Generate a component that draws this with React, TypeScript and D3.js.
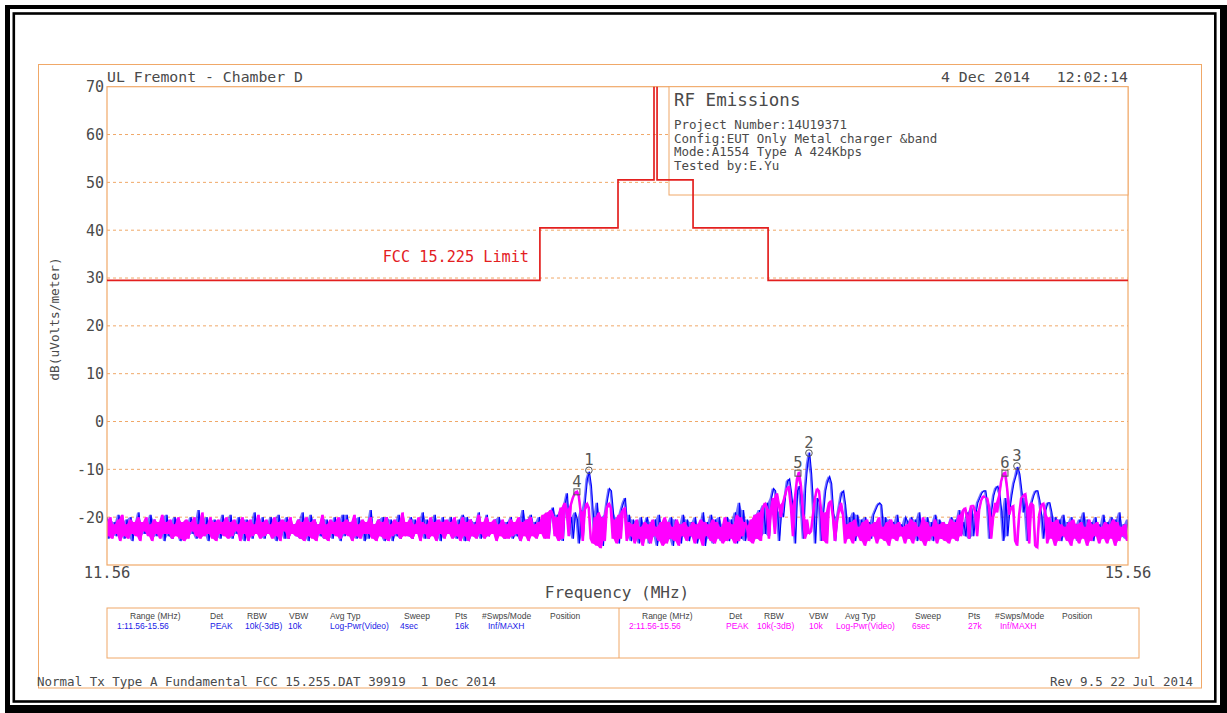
import React from "react";
import * as d3 from "d3";

const W = 1227;
const H = 713;

const freqStart = 11.56;
const freqStop = 15.56;
const yTicks = [70, 60, 50, 40, 30, 20, 10, 0, -10, -20];
const xTickLabels = ["11.56", "15.56"];

// FCC 15.225 limit as drawn on the plot (MHz / dBuV/m)
const limitFreqs = [11.56, 13.256, 13.256, 13.562, 13.562, 13.703, 13.703, 13.715, 13.715, 13.856, 13.856, 14.15, 14.15, 15.56];
const limitLevels = [29.5, 29.5, 40.5, 40.5, 50.5, 50.5, 84, 84, 50.5, 50.5, 40.5, 40.5, 29.5, 29.5];

// sweep levels, one char per point: index in LEVEL_CODES -> -27 + idx * 0.5 dB
const LEVEL_CODES = "0123456789abcdefghijklmnopqrstuvwxyzABCDEFGHIJ";

const trace1Levels = [
  "e5d7c6f8b5", "d6e4c8g6b7", "c7f5d6b8e4", "f6c5e7d4c8", "b6e7c5h6d7", "e4c8d6b5f7",
  "c6f5b7e6d4", "d8c5g7b6e5", "b7e6d4f8c5", "e5c7b6d5g6", "c4f7d8b6e5", "d6b5e7c4f6",
  "f7c6d5e8b4", "c5h6b7d6e4", "e7d4c6f5b8", "b6e5d7c8g5", "d5c7f6b4e7", "c8e6b5d7f4",
  "e4d6c7g5b6", "f6b8d5e7c5", "c7e5b6d4h7", "d5f7c6e8b6", "e6gi7f5h4k", "o8e5gd3h6l",
  "uxrf3k4e2f", "lqpg5e3hkm", "7f4d6c3e5b", "e3c6d2f5b4", "c5e2d6b3f7", "d4c6e3b5g2",
  "c5f3d6e4b7", "e4d6g3k5h4", "d6c4f5h6j7", "k6mqpg4hen", "tuof3pri5q", "AFwi3mk4gp",
  "tvsg4ejopj", "5e6g4f7d5e", "6c5fhjkj6e", "4d7c5f6b8e", "c5e7d4g6b7", "e6c4f7d5c8",
  "b5e6d4h7c6", "g5i6fkmopp", "j5hnqrog4m", "6hnsvzwpgm", "4fknpple5h", "kkg5e6d4f6",
  "c5e7b4d6g5", "d6c4e7b5f6", "c7e5d4g6b5", "d",
].join("");

const trace2Levels = [
  "c6e5b7d4f6", "b5d7c6e4c8", "e6b4d7c5f7", "c7d5b6e5c4", "d5c8e6b5g6", "b7e5c4d7c6",
  "e5c6d8b4e7", "c4d6b7f5c6", "d7b5e6c4d8", "c5e7b6d5c4", "e6c5d4b7f5", "b4d7c6e5c7",
  "d6c4f6b5d7", "c7e5b4d6c5", "e4b6d7c5g6", "c6d5b7e4c7", "b5e6c4d7c5", "d7c5e6b4e6",
  "c4d6b5f7c5", "e6c7d4b6d5", "b5d6c7e4c6", "d4e6b5c7f5", "g5hf6e4i5k", "h6jmopng4h",
  "ki53e2g1e4", "iki5d3f5hi", "4c6b3d5a2c", "5b3d6a4c2e", "3c5a4d2b6c", "4a6c3b5d2c",
  "6b4d3c5a3e", "4c5b3f4e6c", "a4d3f5g4ik", "i5hm7ojekn", "qri6muxrg5", "d78fmqph4g",
  "3kle4chkf3", "b5c3d6a4c2", "d4b6c3e5a4", "c2d5b4c6a3", "b5d3c6a4e2", "c4a6d3b5c4",
  "b3d5c4f6hi", "e5jjg6hlnm", "mi5ekgntwx", "qfij42fmno", "i3kj21fjkg", "3e5c2d4b6a",
  "4c2d5b3c5a", "2d4b6c3a5c", "3b5d2c4a6b", "4",
].join("");

const markerIds = ["1", "2", "3", "4", "5", "6"];
const markerFreqs = [13.448, 14.31, 15.125, 13.401, 14.267, 15.078];
const markerLevels = [-10.2, -6.6, -9.3, -14.7, -10.8, -10.8];
const markerTrace = [1, 1, 1, 2, 2, 2];

const tableHeaders = ["Range (MHz)", "Det", "RBW", "VBW", "Avg Typ", "Sweep", "Pts", "#Swps/Mode", "Position"];
const trace1Settings = ["1:11.56-15.56", "PEAK", "10k(-3dB)", "10k", "Log-Pwr(Video)", "4sec", "16k", "Inf/MAXH"];
const trace2Settings = ["2:11.56-15.56", "PEAK", "10k(-3dB)", "10k", "Log-Pwr(Video)", "6sec", "27k", "Inf/MAXH"];

const infoTitle = "RF Emissions";
const infoLines = [
  "Project Number:14U19371",
  "Config:EUT Only Metal charger &band",
  "Mode:A1554 Type A 424Kbps",
  "Tested by:E.Yu",
];

const ORANGE = "#f0a868";
const INK = "#4a4a4a";
const BLUE = "#0000ff";
const MAGENTA = "#ff00ff";
const RED = "#e3201f";
const MONO = "'DejaVu Sans Mono', monospace";
const SANS = "'Liberation Sans', Arial, sans-serif";

type Pt = { f: number; v: number; lo: number; hi: number };

const decode = (s: string) => Array.from(s).map((c) => -27 + LEVEL_CODES.indexOf(c) * 0.5);
// each display point spans the levels between it and its right neighbour (max-hold column)
const sweep = (levels: number[]): Pt[] =>
  levels.map((v, i) => {
    const n = i < levels.length - 1 ? levels[i + 1] : v;
    return {
      f: freqStart + (i * (freqStop - freqStart)) / (levels.length - 1),
      v,
      lo: Math.min(v, n),
      hi: Math.max(v, n),
    };
  });

export default function App() {
  const plot = { left: 107, right: 1128, top: 86.7, bottom: 565 };
  const x = d3.scaleLinear().domain([freqStart, freqStop]).range([plot.left, plot.right]);
  const y = d3.scaleLinear().domain([-30, 70]).range([plot.bottom, plot.top]);
  const line = d3
    .line<[number, number]>()
    .x((d) => x(d[0]))
    .y((d) => y(d[1]));
  const traceLine = d3
    .line<Pt>()
    .x((d) => x(d.f))
    .y((d) => y(d.v));
  const band = d3
    .area<Pt>()
    .x((d) => x(d.f))
    .y0((d) => y(d.lo))
    .y1((d) => y(d.hi));

  const t1 = sweep(decode(trace1Levels));
  const t2 = sweep(decode(trace2Levels));
  const limit = limitFreqs.map((f, i) => [f, limitLevels[i]] as [number, number]);

  // column positions of the settings table (left half / right half)
  const hdrX1 = [130, 210, 247, 289, 330, 404, 455, 482, 550];
  const valX1 = [117, 210, 245, 288, 330, 400, 455, 488];
  const hdrX2 = [642, 729, 764, 809, 845, 915, 968, 995, 1062];
  const valX2 = [629, 726, 757, 809, 836, 912, 968, 1000];

  return (
    <svg width={W} height={H} style={{ position: "absolute", left: 0, top: 0, background: "#fff" }}>
      <defs>
        <clipPath id="plotClip">
          <rect x={plot.left} y={plot.top} width={plot.right - plot.left} height={plot.bottom - plot.top} />
        </clipPath>
      </defs>

      {/* page border */}
      <rect x={5} y={5} width={W - 5} height={H - 5} fill="#000" />
      <rect x={10} y={9} width={1210} height={696} fill="#fff" />
      <rect x={13.8} y={13.5} width={1201.5} height={688} fill="none" stroke="#000" strokeWidth={2.6} />

      {/* outer orange frame */}
      <rect x={38.5} y={64.5} width={1163} height={623.5} fill="none" stroke={ORANGE} strokeWidth={1} />

      <text x={107} y={82} fontFamily={MONO} fontSize={14.8} fill={INK} style={{ whiteSpace: "pre" }}>
        UL Fremont - Chamber D
      </text>
      <text x={1128} y={82} textAnchor="end" fontFamily={MONO} fontSize={14.8} fill={INK} style={{ whiteSpace: "pre" }}>
        4 Dec 2014   12:02:14
      </text>

      {/* gridlines */}
      {yTicks
        .filter((t) => t !== 70)
        .map((t) => (
          <line
            key={"g" + t}
            x1={plot.left}
            x2={plot.right}
            y1={y(t)}
            y2={y(t)}
            stroke={ORANGE}
            strokeWidth={1}
            strokeDasharray="3 3"
          />
        ))}

      {/* traces */}
      <g clipPath="url(#plotClip)">
        <path d={band(t1) || ""} fill={BLUE} fillOpacity={0.55} />
        <path d={traceLine(t1) || ""} fill="none" stroke={BLUE} strokeWidth={1.1} />
        <path d={band(t2) || ""} fill={MAGENTA} />
        <path d={traceLine(t2) || ""} fill="none" stroke={MAGENTA} strokeWidth={1.1} />
      </g>

      <rect x={plot.left} y={plot.top} width={plot.right - plot.left} height={plot.bottom - plot.top} fill="none" stroke={ORANGE} strokeWidth={1.2} />

      {/* info box */}
      <rect x={669} y={plot.top} width={plot.right - 669} height={195 - plot.top} fill="#fff" stroke={ORANGE} strokeWidth={1} />
      <text x={674} y={106} fontFamily={MONO} fontSize={17.5} fill={INK}>
        {infoTitle}
      </text>
      {infoLines.map((s, i) => (
        <text key={s} x={674} y={129 + i * 13.7} fontFamily={MONO} fontSize={12.5} fill={INK}>
          {s}
        </text>
      ))}

      {/* limit line */}
      <g clipPath="url(#plotClip)">
        <path d={line(limit) || ""} fill="none" stroke={RED} strokeWidth={1.7} />
      </g>
      <text x={529} y={262} textAnchor="end" fontFamily={MONO} fontSize={15.2} fill={RED}>
        FCC 15.225 Limit
      </text>

      {/* markers */}
      {markerIds.map((id, i) => {
        const mx = x(markerFreqs[i]);
        const my = y(markerLevels[i]);
        return (
          <g key={"m" + id}>
            {markerTrace[i] === 1 ? (
              <circle cx={mx} cy={my} r={3.3} fill="none" stroke="#555" strokeWidth={1} />
            ) : (
              <rect x={mx - 3} y={my - 3} width={6} height={6} fill="none" stroke="#555" strokeWidth={1} />
            )}
            <text x={mx} y={my - 5} textAnchor="middle" fontFamily={MONO} fontSize={15.5} fill="#555">
              {id}
            </text>
          </g>
        );
      })}

      {/* axes text */}
      {yTicks.map((t) => (
        <text key={"y" + t} x={104} y={y(t)} dy="0.36em" textAnchor="end" fontFamily={MONO} fontSize={15} fill={INK}>
          {t}
        </text>
      ))}
      {xTickLabels.map((s, i) => (
        <text key={s} x={i === 0 ? plot.left : plot.right} y={578} textAnchor="middle" fontFamily={MONO} fontSize={15.5} fill={INK}>
          {s}
        </text>
      ))}
      <text x={617} y={598} textAnchor="middle" fontFamily={MONO} fontSize={16} fill={INK}>
        Frequency (MHz)
      </text>
      <text transform="translate(59,319) rotate(-90)" textAnchor="middle" fontFamily={MONO} fontSize={12.8} fill={INK}>
        dB(uVolts/meter)
      </text>

      {/* settings table */}
      <rect x={107} y={608} width={1032} height={50} fill="none" stroke={ORANGE} strokeWidth={1} />
      <line x1={619} x2={619} y1={608} y2={658} stroke={ORANGE} strokeWidth={1} />
      {tableHeaders.map((h, i) => (
        <g key={"h" + h}>
          <text x={hdrX1[i]} y={619} fontFamily={SANS} fontSize={8.5} fill="#444">
            {h}
          </text>
          <text x={hdrX2[i]} y={619} fontFamily={SANS} fontSize={8.5} fill="#444">
            {h}
          </text>
        </g>
      ))}
      {trace1Settings.map((v, i) => (
        <text key={"v1" + i} x={valX1[i]} y={629} fontFamily={SANS} fontSize={8.5} fill="#1a1ae6">
          {v}
        </text>
      ))}
      {trace2Settings.map((v, i) => (
        <text key={"v2" + i} x={valX2[i]} y={629} fontFamily={SANS} fontSize={8.5} fill={MAGENTA}>
          {v}
        </text>
      ))}

      {/* footer */}
      <text x={37} y={686} fontFamily={MONO} fontSize={12.5} fill={INK} style={{ whiteSpace: "pre" }}>
        Normal Tx Type A Fundamental FCC 15.255.DAT 39919  1 Dec 2014
      </text>
      <text x={1193} y={686} textAnchor="end" fontFamily={MONO} fontSize={12.5} fill={INK}>
        Rev 9.5 22 Jul 2014
      </text>
    </svg>
  );
}
